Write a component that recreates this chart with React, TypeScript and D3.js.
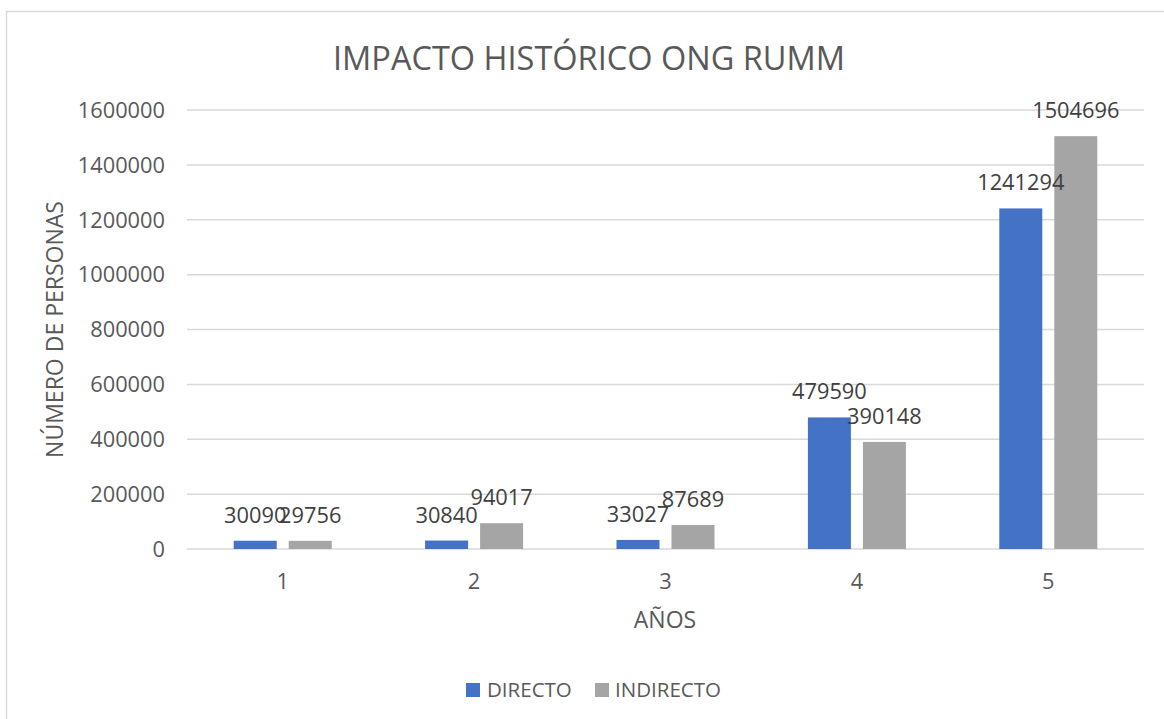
import React from "react";
import * as d3 from "d3";

const categories = ["1", "2", "3", "4", "5"];
const series = ["DIRECTO", "INDIRECTO"];
const directo = [30090, 30840, 33027, 479590, 1241294];
const indirecto = [29756, 94017, 87689, 390148, 1504696];
const yTicks = [0, 200000, 400000, 600000, 800000, 1000000, 1200000, 1400000, 1600000];
const colors = ["#4472C4", "#A5A5A5"];

const W = 1164;
const H = 719;
const FONT = "'Open Sans', 'Liberation Sans', sans-serif";
const TXT = "#595959";

export default function App() {
  const left = 187;
  const right = 1144;
  const top = 110;
  const bottom = 549;
  const x = d3.scaleBand<string>().domain(categories).range([left, right]).padding(0);
  const inner = d3
    .scaleBand<string>()
    .domain(series)
    .range([0, x.bandwidth()])
    .paddingInner(12 / 55)
    .paddingOuter(0.849);
  const y = d3.scaleLinear().domain([0, 1600000]).range([bottom, top]);
  const values = [directo, indirecto];
  const bw = inner.bandwidth();

  const marks = categories.flatMap((c, i) =>
    series.map((s, j) => ({
      key: `${c}-${s}`,
      v: values[j][i],
      bx: (x(c) as number) + (inner(s) as number),
      color: colors[j],
    }))
  );

  return (
    <svg
      width={W}
      height={H}
      style={{ position: "absolute", left: 0, top: 0, background: "#fff" }}
      fontFamily={FONT}
    >
      <rect x={6.5} y={11.5} width={W} height={H} fill="#fff" stroke="#d9d9d9" strokeWidth={1.5} />
      <text x={589} y={70} textAnchor="middle" fontSize={32.5} fill={TXT}>
        IMPACTO HISTÓRICO ONG RUMM
      </text>
      {yTicks.map((t) => (
        <g key={t}>
          <line x1={left} x2={right} y1={y(t)} y2={y(t)} stroke="#d9d9d9" strokeWidth={1.5} />
          <text x={165} y={y(t)} dy="0.36em" textAnchor="end" fontSize={21.8} fill={TXT}>
            {t}
          </text>
        </g>
      ))}
      {marks.map((m) => (
        <rect key={m.key} x={m.bx} y={y(m.v)} width={bw} height={bottom - y(m.v)} fill={m.color} />
      ))}
      {marks.map((m) => (
        <text
          key={m.key + "-l"}
          x={m.bx + bw / 2}
          y={y(m.v) - 18}
          textAnchor="middle"
          fontSize={21.8}
          fill="#404040"
        >
          {m.v}
        </text>
      ))}
      {categories.map((c) => (
        <text
          key={c}
          x={(x(c) as number) + x.bandwidth() / 2}
          y={589}
          textAnchor="middle"
          fontSize={21.8}
          fill={TXT}
        >
          {c}
        </text>
      ))}
      <text x={665} y={628} textAnchor="middle" fontSize={23} fill={TXT}>
        AÑOS
      </text>
      <text
        transform={`translate(63, ${(top + bottom) / 2}) rotate(-90)`}
        textAnchor="middle"
        fontSize={23}
        fill={TXT}
      >
        NÚMERO DE PERSONAS
      </text>
      <g>
        <rect x={466} y={683} width={14} height={14} fill={colors[0]} />
        <text x={487} y={697} fontSize={20.5} fill={TXT}>
          {series[0]}
        </text>
        <rect x={595} y={683} width={14} height={14} fill={colors[1]} />
        <text x={615} y={697} fontSize={20.5} fill={TXT}>
          {series[1]}
        </text>
      </g>
    </svg>
  );
}
